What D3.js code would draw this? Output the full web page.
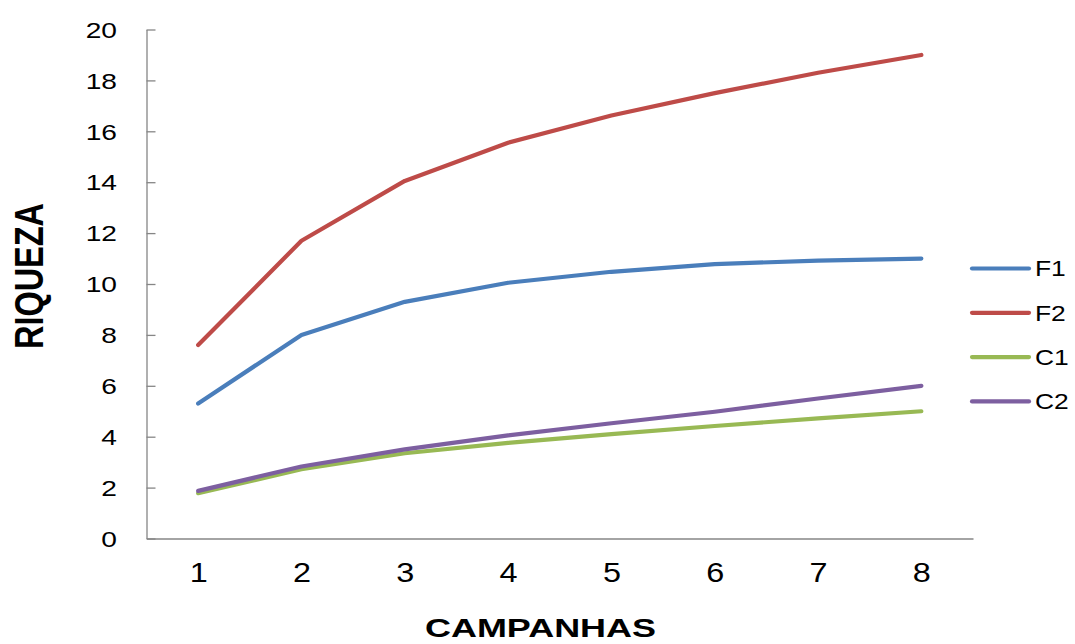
<!DOCTYPE html>
<html>
<head>
<meta charset="utf-8">
<script src="https://cdn.jsdelivr.net/npm/d3@7"></script>
<style>
  html, body { margin: 0; padding: 0; background: #fff; }
  svg { display: block; font-family: "Liberation Sans", Arial, sans-serif; }
</style>
</head>
<body>
<svg id="chart" width="1075" height="644"></svg>
<script>
// Riqueza acumulada por campanha
const campanhas = ["1", "2", "3", "4", "5", "6", "7", "8"];
const seriesNames = ["F1", "F2", "C1", "C2"];
const F1 = [5.3, 8.0, 9.3, 10.05, 10.48, 10.78, 10.92, 11.0];
const F2 = [7.6, 11.7, 14.05, 15.55, 16.62, 17.5, 18.3, 19.0];
const C1 = [1.78, 2.72, 3.35, 3.76, 4.1, 4.42, 4.72, 5.0];
const C2 = [1.87, 2.83, 3.5, 4.05, 4.53, 4.98, 5.5, 6.0];
const yTicks = [0, 2, 4, 6, 8, 10, 12, 14, 16, 18, 20];
const colors = ["#4A7EBB", "#BE4B48", "#98B954", "#7D5FA0"];

const series = [F1, F2, C1, C2].map((vals, i) => ({ name: seriesNames[i], values: vals, color: colors[i] }));

const svg = d3.select("#chart");
const axisColor = "#868686";

const x = d3.scalePoint().domain(campanhas).range([146.5, 973]).padding(0.5);
const y = d3.scaleLinear().domain([0, 20]).range([538.5, 29.5]);

// eixo Y: marcas para dentro
const gy = svg.append("g")
  .attr("transform", "translate(146.5,0)")
  .call(d3.axisLeft(y).tickValues(yTicks).tickSize(-9).tickSizeOuter(0).tickFormat(d3.format("d")));
gy.selectAll("path, line").attr("stroke", axisColor).attr("stroke-width", 1.3);
gy.selectAll("text")
  .attr("x", 0)
  .attr("dy", "0.35em")
  .attr("transform", "translate(-29.5,0) scale(1.28,1)")
  .attr("fill", "#000")
  .style("font-size", "22px")
  .style("font-family", "'Liberation Sans', Arial, sans-serif");

// eixo X
const gx = svg.append("g")
  .attr("transform", "translate(0,538.5)")
  .call(d3.axisBottom(x).tickSize(0).tickSizeOuter(0));
gx.selectAll("path").attr("stroke", axisColor).attr("stroke-width", 1.3);
gx.selectAll("text")
  .attr("y", 0)
  .attr("dy", 0)
  .attr("transform", "translate(0,43) scale(1.2,1)")
  .attr("fill", "#000")
  .style("font-size", "27px")
  .style("font-family", "'Liberation Sans', Arial, sans-serif");

// linhas das séries
const line = d3.line()
  .x((d, i) => x(campanhas[i]))
  .y(d => y(d));

svg.append("g").selectAll("path")
  .data(series)
  .join("path")
  .attr("d", d => line(d.values))
  .attr("fill", "none")
  .attr("stroke", d => d.color)
  .attr("stroke-width", 4.2)
  .attr("stroke-linejoin", "round")
  .attr("stroke-linecap", "round");

// legenda
const legend = svg.append("g").selectAll("g")
  .data(series)
  .join("g")
  .attr("transform", (d, i) => `translate(972,${268.5 + i * 44.3})`);
legend.append("line")
  .attr("x1", 0).attr("x2", 57)
  .attr("stroke", d => d.color)
  .attr("stroke-width", 4.2)
  .attr("stroke-linecap", "round");
legend.append("text")
  .attr("transform", "translate(63,0) scale(1.2,1)")
  .attr("dy", "0.36em")
  .style("font-size", "22px")
  .text(d => d.name);

// títulos dos eixos
svg.append("text")
  .attr("x", 540.5)
  .attr("y", 636.7)
  .attr("text-anchor", "middle")
  .attr("textLength", 231)
  .attr("lengthAdjust", "spacingAndGlyphs")
  .style("font-size", "26px")
  .style("font-weight", "bold")
  .text("CAMPANHAS");

svg.append("text")
  .attr("transform", "translate(42.7,276) scale(1.27,1) rotate(-90)")
  .attr("text-anchor", "middle")
  .attr("textLength", 146)
  .attr("lengthAdjust", "spacingAndGlyphs")
  .style("font-size", "32px")
  .style("font-weight", "bold")
  .text("RIQUEZA");
</script>
</body>
</html>
